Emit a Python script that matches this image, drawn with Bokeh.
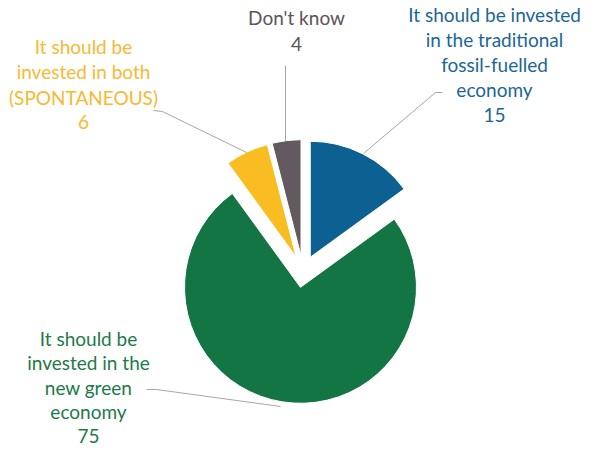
import math
from bokeh.plotting import figure
from bokeh.models import Range1d
from bokeh.embed import file_html
from bokeh.resources import INLINE
from bokeh.core.properties import value

# ---- data ----
categories = [
    "It should be invested in the traditional fossil-fuelled economy",
    "It should be invested in the new green economy",
    "It should be invested in both (SPONTANEOUS)",
    "Don't know",
]
values = [15, 75, 6, 4]
label_lines = [
    ["It should be invested", "in the traditional", "fossil-fuelled", "economy"],
    ["It should be", "invested in the", "new green", "economy"],
    ["It should be", "invested in both", "(SPONTANEOUS)"],
    ["Don't know"],
]
slice_colors = ["#0D6092", "#147544", "#F9BC21", "#625A5E"]
text_colors = ["#1B6696", "#1D7A49", "#F7B932", "#5C5458"]

# ---- layout (reference pixel coords, y down) ----
FW, FH = 582, 447
H = 463
def Y(y):
    return H - y

cx, cy = 302.5, 271.0
R = 116
EXPLODE = 16

label_pos = [  # centre x, centre y of first line, line step
    (494, 14, 25.0),
    (88, 338, 24.3),
    (83, 46, 25.3),
    (296, 17, 26.0),
]

leaders = [
    ([442, 435, 363], [92, 92, 153]),
    ([146, 156, 280], [389, 389, 406]),
    ([153, 162, 246], [110, 111, 152]),
    ([285, 285], [65, 141]),
]

p = figure(width=FW, height=FH, x_range=Range1d(0, FW), y_range=Range1d(H - FH, H),
           output_backend="svg", toolbar_location=None, min_border=0)
p.axis.visible = False
p.grid.visible = False
p.outline_line_color = None
p.background_fill_color = "white"
p.border_fill_color = "white"

total = sum(values)
cum = 0
for i, v in enumerate(values):
    a0 = 90 - cum / total * 360
    a1 = 90 - (cum + v) / total * 360
    cum += v
    mid = math.radians((a0 + a1) / 2)
    x0 = cx + EXPLODE * math.cos(mid)
    y0 = Y(cy) + EXPLODE * math.sin(mid)
    p.wedge(x=x0, y=y0, radius=R, start_angle=math.radians(a0), end_angle=math.radians(a1),
            direction="clock", fill_color=slice_colors[i], line_color="white", line_width=1)

for xs, ys in leaders:
    p.line(xs, [Y(y) for y in ys], line_color="#A6A6A6", line_width=1)

for i, lines in enumerate(label_lines):
    all_lines = lines + [str(values[i])]
    lx, ly, step = label_pos[i]
    for k, t in enumerate(all_lines):
        p.text(x=[lx], y=[Y(ly + k * step)], text=[t], text_align="center",
               text_baseline="middle", text_font=value("Lato"), text_font_size="19px",
               text_color=text_colors[i])

open("out.html", "w").write(file_html(p, INLINE))
